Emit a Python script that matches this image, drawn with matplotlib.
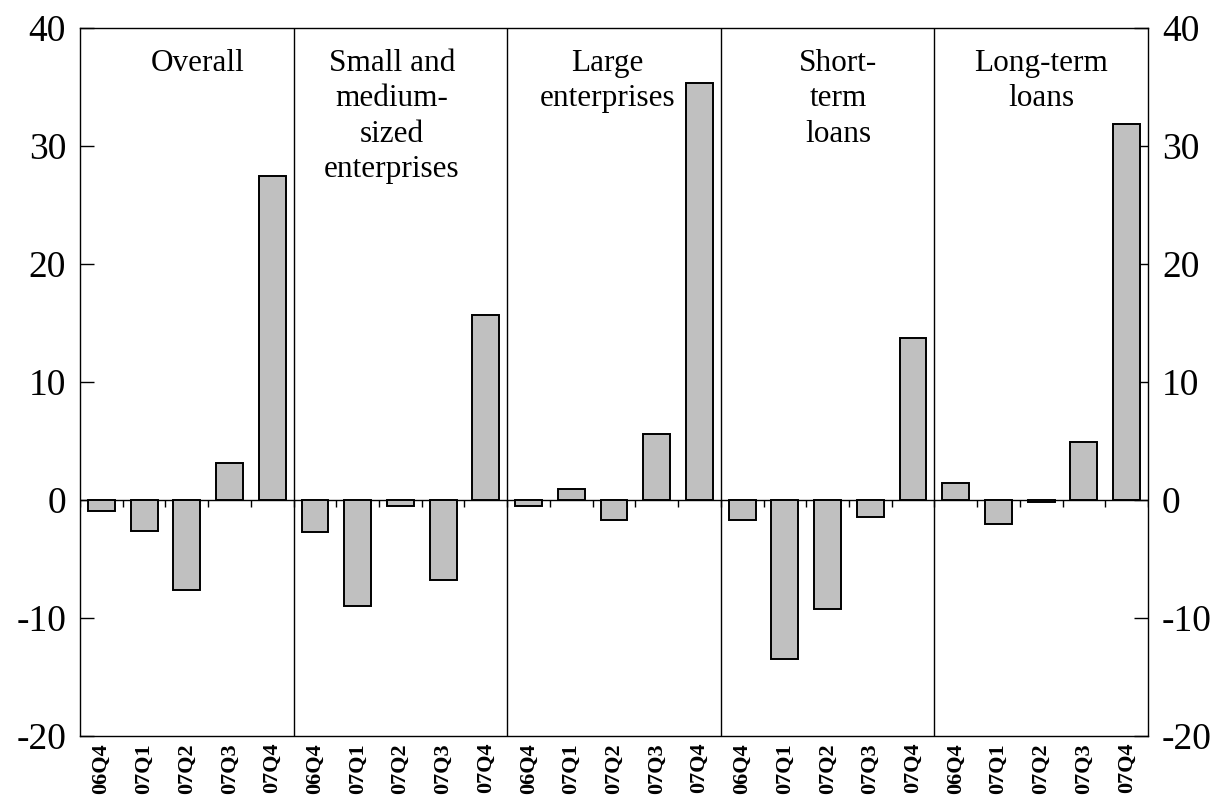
import matplotlib
matplotlib.use("Agg")
import matplotlib.pyplot as plt
import numpy as np

panels = ["Overall", "Small and\nmedium-\nsized\nenterprises", "Large\nenterprises",
          "Short-\nterm\nloans", "Long-term\nloans"]
quarters = ["06Q4", "07Q1", "07Q2", "07Q3", "07Q4"]
overall = [-0.9, -2.6, -7.6, 3.1, 27.5]
sme = [-2.7, -9.0, -0.5, -6.8, 15.7]
large = [-0.5, 0.9, -1.7, 5.6, 35.3]
short_term = [-1.7, -13.5, -9.2, -1.4, 13.7]
long_term = [1.4, -2.0, -0.2, 4.9, 31.9]
series = [overall, sme, large, short_term, long_term]
yticks = [-20, -10, 0, 10, 20, 30, 40]

plt.rcParams['font.family'] = ['Liberation Serif', 'DejaVu Serif']

fig = plt.figure(figsize=(12.23, 8.01), dpi=100)
ax = fig.add_axes([80/1223, 1-736/801, (1148-80)/1223, (736-28)/801])

values = [v for s in series for v in s]
labels = [q for _ in series for q in quarters]
x = np.arange(len(values))
ax.bar(x, values, width=0.63, color='#c0c0c0', edgecolor='black', linewidth=1.4, zorder=3)

ax.set_xlim(-0.5, len(values) - 0.5)
ax.set_ylim(-20, 40)
ax.axhline(0, color='black', linewidth=1.0, zorder=2)

# small ticks along zero line at slot boundaries
bounds = np.arange(len(values) + 1) - 0.5
ax.vlines(bounds, -0.6, 0, color='black', linewidth=1.0, zorder=2)

# panel dividers and titles
n = len(quarters)
offsets = [0.25, -0.2, -0.15, 0.25, 0.0]
for i, title in enumerate(panels):
    if i > 0:
        ax.axvline(i * n - 0.5, color='black', linewidth=1.0, zorder=2)
    ax.text(i * n + (n - 1) / 2 + offsets[i], 38.25, title, ha='center', va='top',
            fontsize=22.5, linespacing=1.3)

ax.set_xticks(x)
ax.set_xticklabels(labels, rotation=90, fontsize=16, fontweight='bold')
ax.tick_params(axis='x', length=0, pad=5)

ax.set_yticks(yticks)
ax.set_yticklabels([str(t) for t in yticks])
ax.tick_params(axis='y', direction='in', length=10, width=1, labelsize=27, pad=10,
               right=True, labelright=True)

for sp in ax.spines.values():
    sp.set_linewidth(1.0)
    sp.set_color('black')

fig.savefig("out.png", dpi=100)
